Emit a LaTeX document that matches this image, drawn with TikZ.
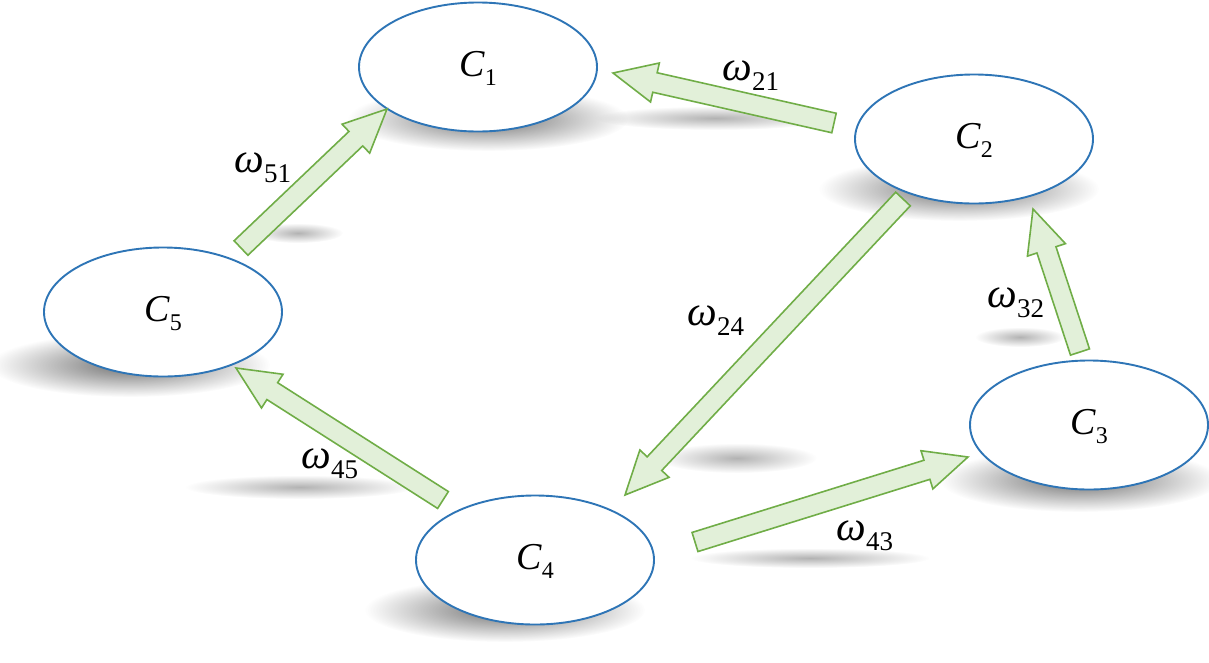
\documentclass[tikz,border=0pt]{standalone}
\usepackage{fontspec}
\setmainfont{Liberation Serif}
\usepackage{xcolor}
\definecolor{colorNode}{RGB}{46,117,182}
\definecolor{colorArrow}{RGB}{112,173,71}
\definecolor{colorArrowFill}{RGB}{226,240,217}
\usetikzlibrary{shapes.geometric, calc, fadings, backgrounds}
\tikzfading[name=softShade, inner color=transparent!25, outer color=transparent!100]
\newcommand{\clab}[1]{\textit{C}\raisebox{-9pt}[0pt][0pt]{\fontsize{24}{24}\selectfont #1}}
\newcommand{\wlab}[1]{\textit{ω}\raisebox{-10pt}{\fontsize{27}{27}\selectfont #1}}
% block arrow from #1 to #2
\newcommand{\blockarrow}[2]{%
\path[flowArrow] let \p1=($(#2)-(#1)$), \n1={atan2(\y1,\x1)}, \n2={veclen(\x1,\y1)} in
  [shift={(#1)}, rotate=\n1] (0pt,-10pt) -- ({\n2-43pt},-10pt) -- ({\n2-43pt},-20pt) -- (\n2,0pt)
  -- ({\n2-43pt},20pt) -- ({\n2-43pt},10pt) -- (0pt,10pt) -- cycle;
}

\begin{document}
\begin{tikzpicture}[x=1pt, y=-1pt, thick,
  cluster/.style={ellipse, draw=colorNode, line width=1.9pt, fill=white, minimum width=238pt, minimum height=129pt, inner sep=0pt, text depth=6pt, font=\fontsize{38}{42}\selectfont},
  weight/.style={anchor=base west, inner sep=0pt, font=\fontsize{42}{46}\selectfont},
  flowArrow/.style={draw=colorArrow, fill=colorArrowFill, line width=1.6pt, line join=miter},
  nodeShadow/.style={fill=black!75, path fading=softShade},
  arrowShadow/.style={fill=black!40, path fading=softShade}]
\useasboundingbox (0,0) rectangle (1209,662);

\node[cluster] (c1) at (478,67) {\clab{1}};
\node[cluster] (c2) at (974,139) {\clab{2}};
\node[cluster] (c3) at (1089,425) {\clab{3}};
\node[cluster] (c4) at (535,560) {\clab{4}};
\node[cluster] (c5) at (163,312) {\clab{5}};

% arrow ends
\coordinate (t21) at ([shift={(-140,-16)}]c2.center);
\coordinate (h21) at ([shift={(135,6)}]c1.center);
\coordinate (t51) at ([shift={(78,-64)}]c5.center);
\coordinate (h51) at ([shift={(-91,42)}]c1.center);
\coordinate (t24) at ([shift={(-71,60)}]c2.center);
\coordinate (h24) at ([shift={(90,-65)}]c4.center);
\coordinate (t32) at ([shift={(-9,-73)}]c3.center);
\coordinate (h32) at ([shift={(59,70)}]c2.center);
\coordinate (t45) at ([shift={(-92,-60)}]c4.center);
\coordinate (h45) at ([shift={(73,56)}]c5.center);
\coordinate (t43) at ([shift={(160,-18)}]c4.center);
\coordinate (h43) at ([shift={(-121,32)}]c3.center);

\blockarrow{t21}{h21}
\blockarrow{t51}{h51}
\blockarrow{t24}{h24}
\blockarrow{t32}{h32}
\blockarrow{t45}{h45}
\blockarrow{t43}{h43}

\node[weight] (w21) at (722,80) {\wlab{21}};
\node[weight] (w51) at (234,172) {\wlab{51}};
\node[weight] (w24) at (687,325) {\wlab{24}};
\node[weight] (w32) at (987,307) {\wlab{32}};
\node[weight] (w45) at (301,468) {\wlab{45}};
\node[weight] (w43) at (836,540) {\wlab{43}};

\begin{scope}[on background layer]
\foreach \n/\dx/\dy in {c1/10/52, c2/-15/50, c3/-9/55, c4/-30/50, c5/-33/53}
  \fill[nodeShadow] ([shift={(\dx,\dy)}]\n.center) ellipse [x radius=140pt, y radius=32pt];
\fill[arrowShadow] (715,118) ellipse [x radius=120pt, y radius=12pt];
\fill[arrowShadow] (298,233) ellipse [x radius=45pt, y radius=10pt];
\fill[arrowShadow] (737,458) ellipse [x radius=80pt, y radius=15pt];
\fill[arrowShadow] (1020,337) ellipse [x radius=45pt, y radius=10pt];
\fill[arrowShadow] (300,487) ellipse [x radius=115pt, y radius=12pt];
\fill[arrowShadow] (810,558) ellipse [x radius=120pt, y radius=10pt];
\end{scope}
\end{tikzpicture}
\end{document}
